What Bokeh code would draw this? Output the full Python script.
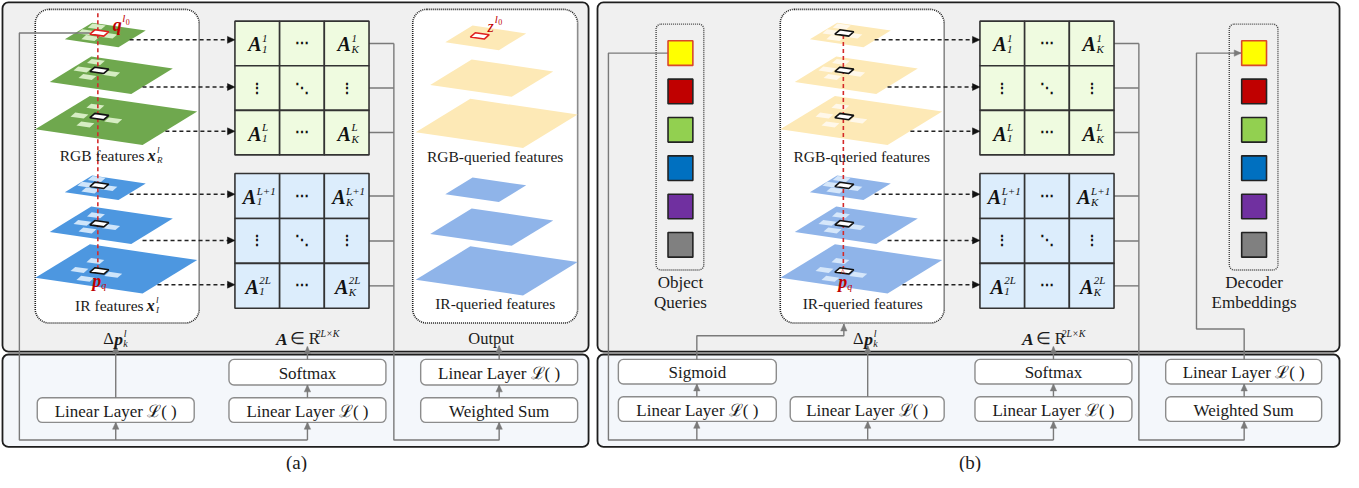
import math
from bokeh.plotting import figure
from bokeh.models import Range1d, BoxAnnotation, ColumnDataSource
from bokeh.embed import file_html
from bokeh.resources import INLINE
from bokeh.core.properties import value

# ---------------- data (labels, symbols, colours) ----------------
panel_captions = ["(a)", "(b)"]
stack_titles_a = ["RGB features", "IR features"]
stack_symbols_a = [("x", "R", "l"), ("x", "I", "l")]
stack_titles_q = ["RGB-queried features", "IR-queried features"]
output_title = "Output"
offset_label = ("Δ", "p", "k", "l")
weights_label = ("A", "∈ R", "2L×K")
rgb_matrix = [[("1", "1"), "⋯", ("K", "1")], ["⋮", "⋱", "⋮"], [("1", "L"), "⋯", ("K", "L")]]
ir_matrix = [[("1", "L+1"), "⋯", ("K", "L+1")], ["⋮", "⋱", "⋮"], [("1", "2L"), "⋯", ("K", "2L")]]
modules_a = ["Linear Layer ℒ( )", "Softmax", "Linear Layer ℒ( )", "Linear Layer ℒ( )", "Weighted Sum"]
modules_b = ["Sigmoid", "Linear Layer ℒ( )", "Linear Layer ℒ( )", "Softmax",
             "Linear Layer ℒ( )", "Linear Layer ℒ( )", "Weighted Sum"]
query_colors = ["#ffff00", "#c00000", "#92d050", "#0070c0", "#7030a0", "#808080"]
query_edges = ["#d9482b", "#222222", "#222222", "#222222", "#222222", "#222222"]
query_titles = ["Object", "Queries"]
embed_titles = ["Decoder", "Embeddings"]
plane_fill_a = ["#6fa84e"] * 3 + ["#4d97e0"] * 3
patch_fill_a = ["#d6edc3"] * 3 + ["#cfe5fa"] * 3
plane_fill_q = ["#fde9b6"] * 3 + ["#8fb4e9"] * 3
patch_fill_q = ["#fff8ea"] * 3 + ["#d6e7fa"] * 3
matrix_fills = ["#effbe0", "#dcedfc"]

FONT = value("Liberation Serif")
DARK = "#1e1e1e"
RED = "#c00000"

p = figure(width=1343, height=472, x_range=Range1d(2, 1354), y_range=Range1d(-480, 0),
           x_axis_location=None, y_axis_location=None, toolbar_location=None,
           output_backend="svg", min_border=0, outline_line_color=None,
           background_fill_color="white", border_fill_color="white")
p.xgrid.visible = False
p.ygrid.visible = False


def rbox(l, r, t, b, fill, line, lw, radius, dash="solid"):
    p.add_layout(BoxAnnotation(left=l, right=r, top=-t, bottom=-b, fill_color=fill, fill_alpha=1,
                               line_color=line, line_alpha=1, line_width=lw, line_dash=dash,
                               border_radius=radius, level="underlay"))


# ---------------- panels ----------------
for (l, r) in [(4, 594), (603, 1350)]:
    rbox(l, r, 2, 357, "#f0f0f0", DARK, 1.8, 6)
    rbox(l, r, 360, 454, "#f4f7fb", DARK, 1.8, 6)

# dotted grouping boxes
rbox(37, 202, 9, 328, "white", DARK, 1.6, 14, "1 1")
rbox(417, 583, 9, 328, "white", DARK, 1.6, 14, "1 1")
rbox(787, 952, 9, 328, "white", DARK, 1.6, 14, "1 1")
rbox(662, 710, 24, 274, "#f0f0f0", "#444444", 1.4, 5, "1 1")
rbox(1239, 1288, 24, 274, "#f0f0f0", "#444444", 1.4, 5, "1 1")

# module boxes
mod_a_pos = [(39, 197, 404, 429), (232, 390, 365, 391), (232, 390, 404, 429),
             (425, 583, 365, 391), (425, 583, 404, 429)]
mod_b_pos = [(624, 783, 365, 390), (624, 783, 403, 428), (797, 952, 403, 428),
             (983, 1141, 365, 390), (983, 1141, 403, 428), (1175, 1332, 365, 390),
             (1175, 1332, 403, 428)]
for (l, r, t, b) in mod_a_pos + mod_b_pos:
    rbox(l, r, t, b, "white", "#8c8c8c", 1.4, 5)

# ---------------- text collector ----------------
TX = {k: [] for k in ("x", "y", "text", "size", "style", "color", "align", "base")}


def put(x, y, s, size=15.5, style="normal", color="#1a1a1a", align="center", base="middle"):
    TX["x"].append(x); TX["y"].append(-y); TX["text"].append(s)
    TX["size"].append(f"{size}px"); TX["style"].append(style); TX["color"].append(color)
    TX["align"].append(align); TX["base"].append(base)


for (l, r, t, b), s in zip(mod_a_pos, modules_a):
    put((l + r) / 2, (t + b) / 2 + 1, s, 17)
for (l, r, t, b), s in zip(mod_b_pos, modules_b):
    put((l + r) / 2, (t + b) / 2 + 1, s, 17)

# ---------------- polygons ----------------
POLY = {"xs": [], "ys": [], "fill": [], "line": [], "lw": [], "la": []}


def poly(xs, ys, fill, line=None, lw=0.0):
    POLY["xs"].append(list(xs)); POLY["ys"].append([-v for v in ys])
    POLY["fill"].append(fill); POLY["line"].append(line if line else fill)
    POLY["lw"].append(lw if line else 0.1); POLY["la"].append(1.0 if line else 0.0)


PLANE_REL = [(-26.5, -25.0), (81.5, -9.0), (26.5, 25.0), (-81.5, 9.0)]
CELL_REL = [(-4.5, -3.2), (9.5, -1.2), (4.5, 3.2), (-9.5, 1.2)]
PATCH_OFF = [(-4, -10), (-20, -1), (-14, 8), (14, 4)]
PLANE_LAYOUT = [(107.5, 35, 0.5, 0.65), (113.5, 76, 0.76, 0.85), (118.5, 122, 1.0, 1.0),
                (107.5, 190.5, 0.5, 0.65), (113.5, 228.5, 0.76, 0.85), (118.5, 273, 1.0, 1.0)]
CELL_Y = [33, 71, 118, 188, 227, 275]
CELL_X = 101.5


def plane(cx, cy, s, fill):
    poly([cx + s * a for a, b in PLANE_REL], [cy + s * b for a, b in PLANE_REL], fill)


def cell(cx, cy, fill, line, lw=1.6, k=1.0):
    poly([cx + k * a for a, b in CELL_REL], [cy + k * b for a, b in CELL_REL], fill, line, lw)


def stack(dx, dys, fills, pfills, with_patches):
    for i, (cx, cy, s, f) in enumerate(PLANE_LAYOUT):
        plane(cx + dx, cy + dys[i], s, fills[i])
        if with_patches:
            for ox, oy in PATCH_OFF:
                cell(CELL_X + dx + ox * f, CELL_Y[i] + dys[i] + oy * f, pfills[i], None, 0, 0.95)


stack(0, [0] * 6, plane_fill_a, patch_fill_a, True)
stack(383, [3, 3, 3, 2, 2, 2], plane_fill_q, None, False)
stack(750, [0] * 6, plane_fill_q, patch_fill_q, True)

p.patches("xs", "ys", source=ColumnDataSource(POLY), fill_color="fill", line_color="line",
          line_width="lw", line_alpha="la")

# red dashed query lines
p.multi_line([[100, 100], [850.5, 850.5]], [[-13, -272], [-35, -272]], line_color="#d42a2a",
             line_width=1.6, line_dash="4 3")

# cells on top
POLY = {"xs": [], "ys": [], "fill": [], "line": [], "lw": [], "la": []}
for i in range(6):
    cell(CELL_X, CELL_Y[i], "white", "#e02020" if i == 0 else "#111111")
    cell(CELL_X + 750, CELL_Y[i], "white", "#111111")
cell(CELL_X + 383, CELL_Y[0] + 3, "white", "#e02020")

# query / embedding squares
SQ_Y = [53.5 + 39 * i for i in range(6)]
for cx in (686.5, 1264):
    for y, c, e in zip(SQ_Y, query_colors, query_edges):
        poly([cx - 12.5, cx + 12.5, cx + 12.5, cx - 12.5], [y - 12.5, y - 12.5, y + 12.5, y + 12.5],
             c, e, 1.6)

# matrices
MAT_X = [238, 283, 328, 373]
MAT_Y = [[21, 66.3, 111.7, 157], [176, 221.7, 267.3, 313]]
for dx in (0, 750):
    for m, (rows, fill) in enumerate(zip([rgb_matrix, ir_matrix], matrix_fills)):
        ys = MAT_Y[m]
        for r in range(3):
            for c in range(3):
                l, rr = MAT_X[c] + dx, MAT_X[c + 1] + dx
                t, b = ys[r], ys[r + 1]
                poly([l, rr, rr, l], [t, t, b, b], fill, "#333333", 1.6)
                cx, cy = (l + rr) / 2, (t + b) / 2
                item = rows[r][c]
                if isinstance(item, tuple):
                    sub, sup = item
                    w = 5.4 * max(len(sub), len(sup))
                    xr = cx - (14 + w) / 2 + 14
                    put(xr, cy + 1, "A", 20, "bold italic", "#111111", "right")
                    put(xr + 0.5, cy + 6, sub, 11, "italic", "#111111", "left")
                    put(xr + 0.5, cy - 5.5, sup, 11, "italic", "#111111", "left")
                else:
                    put(cx, cy, item, 14, "bold", "#111111")

# ---------------- connectors ----------------
HEADS = {"xs": [], "ys": [], "fill": []}


def head(x0, y0, x1, y1, color, L=7.0, w=3.2):
    dx, dy = x1 - x0, y1 - y0
    n = math.hypot(dx, dy)
    ux, uy = dx / n, dy / n
    bx, by = x1 - ux * L, y1 - uy * L
    HEADS["xs"].append([x1, bx - uy * w, bx + uy * w])
    HEADS["ys"].append([-y1, -(by + ux * w), -(by - ux * w)])
    HEADS["fill"].append(color)


GL = {"xs": [], "ys": []}


def gpath(pts, arrow=False):
    xs = [a for a, b in pts]
    ys = [b for a, b in pts]
    if arrow:
        head(xs[-2], ys[-2], xs[-1], ys[-1], "#7a7a7a")
    GL["xs"].append(xs); GL["ys"].append([-v for v in ys])


ROW_Y = [43.7, 89, 134.3, 198.8, 244.5, 290.2]
for dx in (0, 750):
    for y in ROW_Y:
        gpath([(373 + dx, y), (398 + dx, y)])

# panel (a)
gpath([(92, 33), (21, 33), (21, 447), (311, 447)])
gpath([(118, 447), (118, 429)], True)
gpath([(311, 447), (311, 429)], True)
gpath([(118, 404), (118, 351)], True)
gpath([(311, 404), (311, 391)], True)
gpath([(311, 365), (311, 352)], True)
gpath([(398, 43.7), (398, 447), (504, 447), (504, 429)], True)
gpath([(504, 404), (504, 391)], True)
gpath([(504, 365), (504, 351)], True)
# panel (b)
gpath([(674, 53.5), (614, 53.5), (614, 447), (1062, 447)])
for x in (703, 875, 1062):
    gpath([(x, 447), (x, 428)], True)
gpath([(703, 403), (703, 390)], True)
gpath([(703, 365), (703, 341), (851, 341), (851, 329)], True)
gpath([(875, 403), (875, 351)], True)
gpath([(1062, 403), (1062, 390)], True)
gpath([(1062, 365), (1062, 352)], True)
gpath([(1148, 43.7), (1148, 447), (1254, 447), (1254, 428)], True)
gpath([(1254, 403), (1254, 390)], True)
gpath([(1254, 365), (1254, 334), (1206, 334), (1206, 53.5), (1251, 53.5)], True)

p.multi_line("xs", "ys", source=ColumnDataSource(GL), line_color="#7a7a7a", line_width=1.4)

DL = {"xs": [], "ys": []}
DASH_Y = [40, 88, 133, 197, 244, 289]
DASH_X0 = [132, 145, 168, 132, 145, 160]
for dx in (0, 750):
    for y, x0 in zip(DASH_Y, DASH_X0):
        DL["xs"].append([x0 + dx, 231 + dx]); DL["ys"].append([-y, -y])
        head(x0 + dx, y, 238 + dx, y, "#111111", 7.5, 3.5)
p.multi_line("xs", "ys", source=ColumnDataSource(DL), line_color="#222222", line_width=1.5,
             line_dash="4 3")

p.patches("xs", "ys", source=ColumnDataSource(POLY), fill_color="fill", line_color="line",
          line_width="lw", line_alpha="la")
p.patches("xs", "ys", source=ColumnDataSource(HEADS), fill_color="fill", line_color="fill",
          line_width=0.5)

# ---------------- labels ----------------
for (title, sym), y, xr in zip(zip(stack_titles_a, stack_symbols_a), (158, 310), (147, 146)):
    put(xr, y, title, 15.5, align="right")
    b, sub, sup = sym
    put(xr + 3, y, b, 16.5, "bold italic", align="left")
    put(xr + 12.5, y + 4.5, sub, 9, "italic", align="left")
    put(xr + 12.5, y - 5.5, sup, 9, "italic", align="left")
put(119.5, 25, "q", 18, "bold italic", RED)
put(124.5, 18, "l", 11, "italic", RED, "left")
put(128, 21.5, "0", 8, "normal", RED, "left")
put(99, 285, "p", 18, "bold italic", RED)
put(103.5, 290, "q", 10, "italic", RED, "left")
put(500, 159, stack_titles_q[0], 15.5)
put(500, 308, stack_titles_q[1], 15.5)
put(495.5, 26, "z", 16, "italic", RED)
put(499.5, 18.5, "l", 11, "italic", RED, "left")
put(503, 22, "0", 8, "normal", RED, "left")
put(869, 159, stack_titles_q[0], 15.5)
put(870, 308, stack_titles_q[1], 15.5)
put(850, 286, "p", 18, "bold italic", RED)
put(850, 277, "^", 10, "normal", RED)
put(854.5, 291, "q", 10, "italic", RED, "left")
put(686.5, 287, query_titles[0], 17)
put(686.5, 307, query_titles[1], 17)
put(1264, 287, embed_titles[0], 17)
put(1264, 307, embed_titles[1], 17)

for cx in (120, 875):
    d, pp, sub, sup = offset_label
    put(cx - 4, 344, d, 16.5, "normal", align="right")
    put(cx - 3.5, 344, pp, 17.5, "bold italic", align="left")
    put(cx + 5.5, 348.5, sub, 10, "italic", align="left")
    put(cx + 6, 338.5, sup, 10, "italic", align="left")
for cx in (311, 1062):
    a, mid, sup = weights_label
    put(cx - 20, 344, a, 17.5, "bold italic", align="right")
    put(cx - 18, 344, mid, 16.5, "normal", align="left")
    put(cx + 8, 338.5, sup, 10, "italic", align="left")
put(496, 344, output_title, 16.5)

put(300, 470, panel_captions[0], 19)
put(978, 470, panel_captions[1], 19)

p.text("x", "y", text="text", source=ColumnDataSource(TX), text_font=FONT,
       text_font_size="size", text_font_style="style", text_color="color",
       text_align="align", text_baseline="base")

open("out.html", "w").write(file_html(p, INLINE))
